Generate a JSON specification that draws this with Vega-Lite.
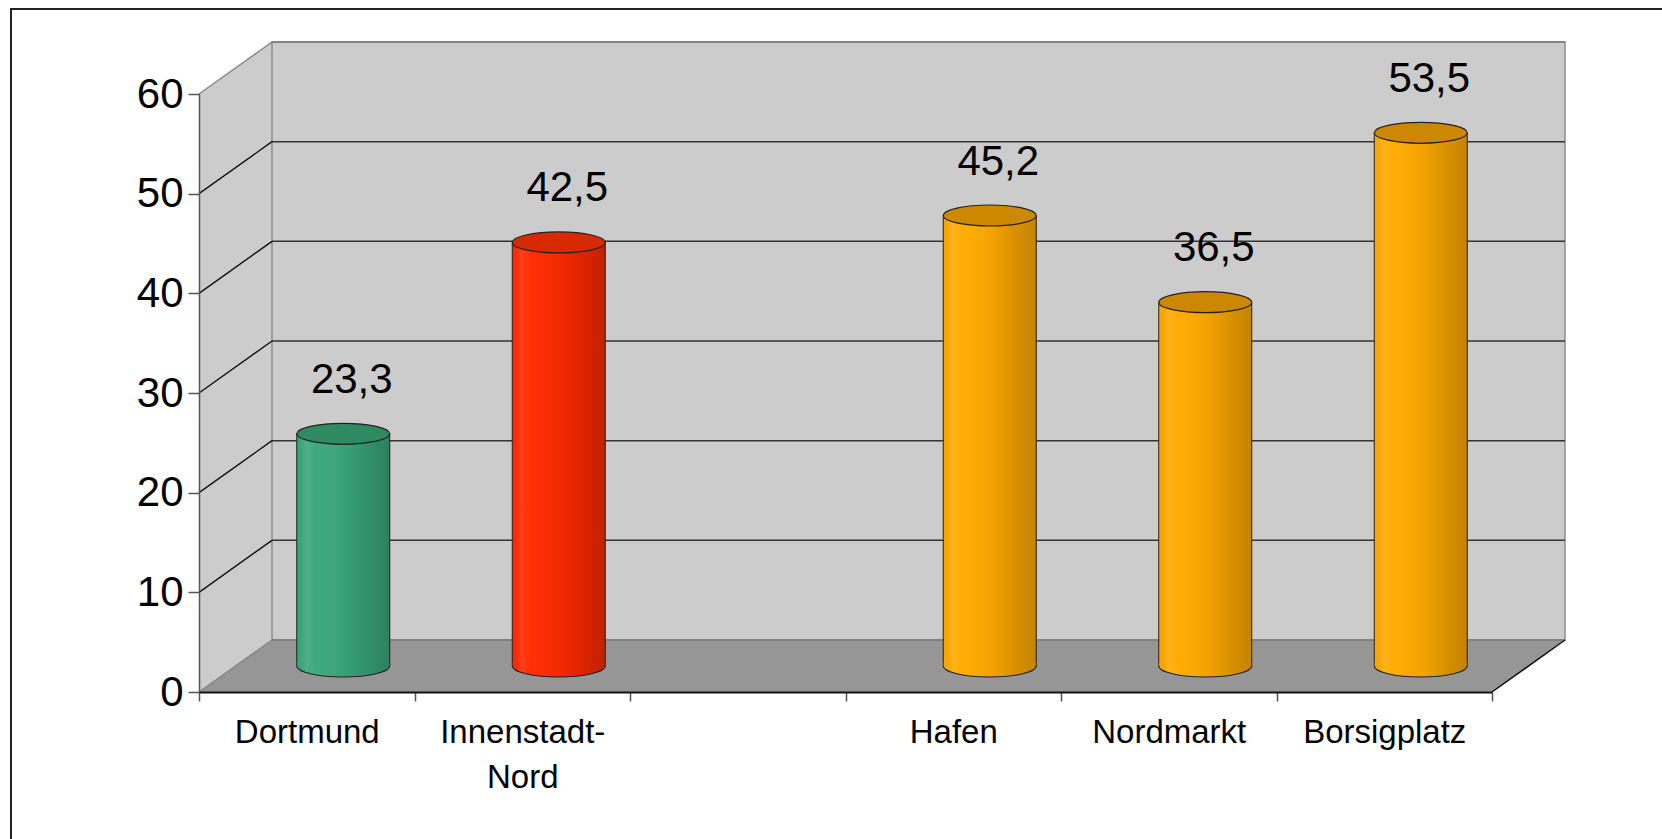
{
  "$schema": "https://vega.github.io/schema/vega-lite/v6.json",
  "width": 1293,
  "height": 598,
  "autosize": {"type": "none"},
  "padding": {"left": 199, "top": 94, "right": 170, "bottom": 147},
  "background": "white",
  "config": {
    "view": {"stroke": null},
    "font": "Liberation Sans",
    "locale": {"number": {"decimal": ",", "thousands": ".", "grouping": [3], "currency": ["", " €"]}}
  },
  "datasets": {
    "werte": [
      {"Gebiet": "Dortmund", "Ebene": "Stadt", "Wert": 23.3},
      {"Gebiet": "Innenstadt-Nord", "Ebene": "Stadtbezirk", "Wert": 42.5},
      {"Gebiet": "Hafen", "Ebene": "Stadtteil", "Wert": 45.2},
      {"Gebiet": "Nordmarkt", "Ebene": "Stadtteil", "Wert": 36.5},
      {"Gebiet": "Borsigplatz", "Ebene": "Stadtteil", "Wert": 53.5}
    ],
    "ticks": [{"v": 0}, {"v": 10}, {"v": 20}, {"v": 30}, {"v": 40}, {"v": 50}, {"v": 60}],
    "anker": [{}]
  },
  "layer": [
    {
      "data": {"name": "anker"},
      "mark": {"type": "point", "shape": "M0,0 L1293,0 L1366,-52 L73,-52 Z", "size": 4, "filled": true, "fill": "#969696", "strokeWidth": 0, "opacity": 1},
      "encoding": {
        "x": {"datum": "Dortmund", "bandPosition": 0, "scale": {"type": "band", "domain": ["Dortmund", "Innenstadt-Nord", " ", "Hafen", "Nordmarkt", "Borsigplatz"], "paddingInner": 0, "paddingOuter": 0}},
        "y": {"datum": 0, "scale": {"domain": [0, 60], "nice": false, "zero": true}}
      }
    },
    {
      "data": {"name": "anker"},
      "mark": {"type": "point", "shape": "M0,0 L73,-52 L73,-650 L0,-598 Z", "size": 4, "filled": true, "fill": "#CCCCCC", "strokeWidth": 0, "opacity": 1},
      "encoding": {
        "x": {"datum": "Dortmund", "bandPosition": 0, "scale": {"type": "band", "domain": ["Dortmund", "Innenstadt-Nord", " ", "Hafen", "Nordmarkt", "Borsigplatz"], "paddingInner": 0, "paddingOuter": 0}},
        "y": {"datum": 0, "scale": {"domain": [0, 60], "nice": false, "zero": true}}
      }
    },
    {
      "data": {"name": "anker"},
      "mark": {"type": "point", "shape": "M73,-52 L1366,-52 L1366,-650 L73,-650 Z", "size": 4, "filled": true, "fill": "#CCCCCC", "stroke": "#8C8C8C", "strokeWidth": 1.5, "opacity": 1},
      "encoding": {
        "x": {"datum": "Dortmund", "bandPosition": 0, "scale": {"type": "band", "domain": ["Dortmund", "Innenstadt-Nord", " ", "Hafen", "Nordmarkt", "Borsigplatz"], "paddingInner": 0, "paddingOuter": 0}},
        "y": {"datum": 0, "scale": {"domain": [0, 60], "nice": false, "zero": true}}
      }
    },
    {
      "data": {"name": "ticks"},
      "mark": {"type": "point", "shape": "M73,-52 L1366,-52", "size": 4, "filled": false, "strokeWidth": 1.5, "opacity": 1},
      "encoding": {
        "x": {"datum": "Dortmund", "bandPosition": 0, "scale": {"type": "band", "domain": ["Dortmund", "Innenstadt-Nord", " ", "Hafen", "Nordmarkt", "Borsigplatz"], "paddingInner": 0, "paddingOuter": 0}},
        "y": {"field": "v", "type": "quantitative", "title": null, "scale": {"domain": [0, 60], "nice": false, "zero": true}},
        "stroke": {"condition": {"test": "datum.v == 0 || datum.v == 60", "value": "#7A7A7A"}, "value": "#333333"}
      }
    },
    {
      "data": {"name": "ticks"},
      "mark": {"type": "point", "shape": "M0,0 L73,-52", "size": 4, "filled": false, "strokeWidth": 1.4, "opacity": 1},
      "encoding": {
        "x": {"datum": "Dortmund", "bandPosition": 0, "scale": {"type": "band", "domain": ["Dortmund", "Innenstadt-Nord", " ", "Hafen", "Nordmarkt", "Borsigplatz"], "paddingInner": 0, "paddingOuter": 0}},
        "y": {"field": "v", "type": "quantitative", "title": null, "scale": {"domain": [0, 60], "nice": false, "zero": true}},
        "stroke": {"condition": {"test": "datum.v == 0 || datum.v == 60", "value": "#858585"}, "value": "#111111"}
      }
    },
    {
      "data": {"name": "anker"},
      "mark": {"type": "point", "shape": "M1293,0 L1366,-52", "size": 4, "filled": false, "stroke": "#111111", "strokeWidth": 1.5, "opacity": 1},
      "encoding": {
        "x": {"datum": "Dortmund", "bandPosition": 0, "scale": {"type": "band", "domain": ["Dortmund", "Innenstadt-Nord", " ", "Hafen", "Nordmarkt", "Borsigplatz"], "paddingInner": 0, "paddingOuter": 0}},
        "y": {"datum": 0, "scale": {"domain": [0, 60], "nice": false, "zero": true}}
      }
    },
    {
      "data": {"name": "anker"},
      "mark": {"type": "point", "shape": "M-188,170 L-188,-683 L1480,-683", "size": 4, "filled": false, "stroke": "#222222", "strokeWidth": 2, "opacity": 1},
      "encoding": {
        "x": {"datum": "Dortmund", "bandPosition": 0, "scale": {"type": "band", "domain": ["Dortmund", "Innenstadt-Nord", " ", "Hafen", "Nordmarkt", "Borsigplatz"], "paddingInner": 0, "paddingOuter": 0}},
        "y": {"datum": 0, "scale": {"domain": [0, 60], "nice": false, "zero": true}}
      }
    },
    {
      "data": {"name": "werte"},
      "mark": {"type": "bar", "width": 93, "xOffset": 36.5, "yOffset": -26, "y2Offset": -26, "stroke": "#222222", "strokeWidth": 1},
      "encoding": {
        "x": {"field": "Gebiet", "type": "nominal", "title": null,
          "scale": {"type": "band", "domain": ["Dortmund", "Innenstadt-Nord", " ", "Hafen", "Nordmarkt", "Borsigplatz"], "paddingInner": 0, "paddingOuter": 0},
          "axis": {"title": null, "labelAngle": 0, "labelAlign": "center", "labelBaseline": "top", "tickBand": "extent", "tickSize": 9, "tickColor": "#555555", "tickWidth": 1.5, "domainColor": "#111111", "domainWidth": 2, "labelFontSize": 33, "labelFont": "Liberation Sans", "labelColor": "#000000", "labelPadding": 15, "labelLineHeight": 45, "labelLimit": 400, "labelOverlap": false, "grid": false, "zindex": 1,
            "labelExpr": "datum.value == 'Innenstadt-Nord' ? ['Innenstadt-', 'Nord'] : datum.value"}},
        "y": {"field": "Wert", "type": "quantitative", "title": null,
          "scale": {"domain": [0, 60], "nice": false, "zero": true},
          "axis": {"title": null, "values": [0, 10, 20, 30, 40, 50, 60], "tickSize": 11, "tickColor": "#555555", "tickWidth": 1.5, "domainColor": "#555555", "domainWidth": 1.5, "labelFontSize": 42, "labelFont": "Liberation Sans", "labelColor": "#000000", "labelPadding": 5, "labelAlign": "right", "labelBaseline": "middle", "grid": false, "zindex": 1}},
        "y2": {"datum": 0},
        "color": {"field": "Ebene", "type": "nominal", "legend": null, "scale": {"domain": ["Stadt", "Stadtbezirk", "Stadtteil"], "range": ["#3AA87B", "#FF2A00", "#FFAA00"]}}
      }
    },
    {
      "data": {"name": "werte"},
      "mark": {"type": "bar", "width": 93, "xOffset": 36.5, "yOffset": -26, "y2Offset": -26, "strokeWidth": 0,
        "color": {"gradient": "linear", "x1": 0, "y1": 0, "x2": 1, "y2": 0, "stops": [
          {"offset": 0, "color": "rgba(0,0,0,0.02)"},
          {"offset": 0.1, "color": "rgba(255,255,255,0.1)"},
          {"offset": 0.2, "color": "rgba(255,255,255,0.02)"},
          {"offset": 0.55, "color": "rgba(0,0,0,0.06)"},
          {"offset": 0.8, "color": "rgba(0,0,0,0.16)"},
          {"offset": 1, "color": "rgba(0,0,0,0.23)"}]}},
      "encoding": {
        "x": {"field": "Gebiet", "type": "nominal", "title": null, "scale": {"type": "band", "domain": ["Dortmund", "Innenstadt-Nord", " ", "Hafen", "Nordmarkt", "Borsigplatz"], "paddingInner": 0, "paddingOuter": 0}},
        "y": {"field": "Wert", "type": "quantitative", "title": null, "scale": {"domain": [0, 60], "nice": false, "zero": true}},
        "y2": {"datum": 0}
      }
    },
    {
      "data": {"name": "werte"},
      "mark": {"type": "point", "shape": "M-46,-3 L-46,0 A46,11 0 0,0 46,0 L46,-3 Z", "size": 4, "filled": true, "strokeWidth": 0, "opacity": 1, "xOffset": 36.5, "yOffset": -26},
      "encoding": {
        "x": {"field": "Gebiet", "type": "nominal", "title": null, "scale": {"type": "band", "domain": ["Dortmund", "Innenstadt-Nord", " ", "Hafen", "Nordmarkt", "Borsigplatz"], "paddingInner": 0, "paddingOuter": 0}},
        "y": {"datum": 0, "scale": {"domain": [0, 60], "nice": false, "zero": true}},
        "color": {"field": "Ebene", "type": "nominal", "legend": null, "scale": {"domain": ["Stadt", "Stadtbezirk", "Stadtteil"], "range": ["#3AA87B", "#FF2A00", "#FFAA00"]}}
      }
    },
    {
      "data": {"name": "werte"},
      "mark": {"type": "point", "shape": "M-46,-3 L-46,0 A46,11 0 0,0 46,0 L46,-3 Z", "size": 4, "filled": true, "strokeWidth": 0, "opacity": 1, "xOffset": 36.5, "yOffset": -26,
        "fill": {"gradient": "linear", "x1": 0, "y1": 0, "x2": 1, "y2": 0, "stops": [
          {"offset": 0, "color": "rgba(0,0,0,0.02)"},
          {"offset": 0.1, "color": "rgba(255,255,255,0.1)"},
          {"offset": 0.2, "color": "rgba(255,255,255,0.02)"},
          {"offset": 0.55, "color": "rgba(0,0,0,0.06)"},
          {"offset": 0.8, "color": "rgba(0,0,0,0.16)"},
          {"offset": 1, "color": "rgba(0,0,0,0.23)"}]}},
      "encoding": {
        "x": {"field": "Gebiet", "type": "nominal", "title": null, "scale": {"type": "band", "domain": ["Dortmund", "Innenstadt-Nord", " ", "Hafen", "Nordmarkt", "Borsigplatz"], "paddingInner": 0, "paddingOuter": 0}},
        "y": {"datum": 0, "scale": {"domain": [0, 60], "nice": false, "zero": true}}
      }
    },
    {
      "data": {"name": "werte"},
      "mark": {"type": "point", "shape": "M-46.5,0 A46.5,11 0 0,0 46.5,0", "size": 4, "filled": false, "stroke": "#222222", "strokeWidth": 1.2, "opacity": 1, "xOffset": 36.5, "yOffset": -26},
      "encoding": {
        "x": {"field": "Gebiet", "type": "nominal", "title": null, "scale": {"type": "band", "domain": ["Dortmund", "Innenstadt-Nord", " ", "Hafen", "Nordmarkt", "Borsigplatz"], "paddingInner": 0, "paddingOuter": 0}},
        "y": {"datum": 0, "scale": {"domain": [0, 60], "nice": false, "zero": true}}
      }
    },
    {
      "data": {"name": "werte"},
      "mark": {"type": "point", "shape": "M-46.5,0 A46.5,10.5 0 1,0 46.5,0 A46.5,10.5 0 1,0 -46.5,0 Z", "size": 4, "filled": true, "stroke": "#222222", "strokeWidth": 1.2, "opacity": 1, "xOffset": 36.5, "yOffset": -26},
      "encoding": {
        "x": {"field": "Gebiet", "type": "nominal", "title": null, "scale": {"type": "band", "domain": ["Dortmund", "Innenstadt-Nord", " ", "Hafen", "Nordmarkt", "Borsigplatz"], "paddingInner": 0, "paddingOuter": 0}},
        "y": {"field": "Wert", "type": "quantitative", "title": null, "scale": {"domain": [0, 60], "nice": false, "zero": true}},
        "fill": {"field": "Ebene", "type": "nominal", "legend": null, "scale": {"domain": ["Stadt", "Stadtbezirk", "Stadtteil"], "range": ["#2F8A62", "#D82A00", "#CC8800"]}}
      }
    },
    {
      "data": {"name": "werte"},
      "mark": {"type": "text", "dx": 45, "dy": -80, "fontSize": 42, "font": "Liberation Sans", "align": "center", "baseline": "middle", "color": "#000000"},
      "encoding": {
        "x": {"field": "Gebiet", "type": "nominal", "title": null, "scale": {"type": "band", "domain": ["Dortmund", "Innenstadt-Nord", " ", "Hafen", "Nordmarkt", "Borsigplatz"], "paddingInner": 0, "paddingOuter": 0}},
        "y": {"field": "Wert", "type": "quantitative", "title": null, "scale": {"domain": [0, 60], "nice": false, "zero": true}},
        "text": {"field": "Wert", "type": "quantitative", "format": ".1f"}
      }
    }
  ]
}
